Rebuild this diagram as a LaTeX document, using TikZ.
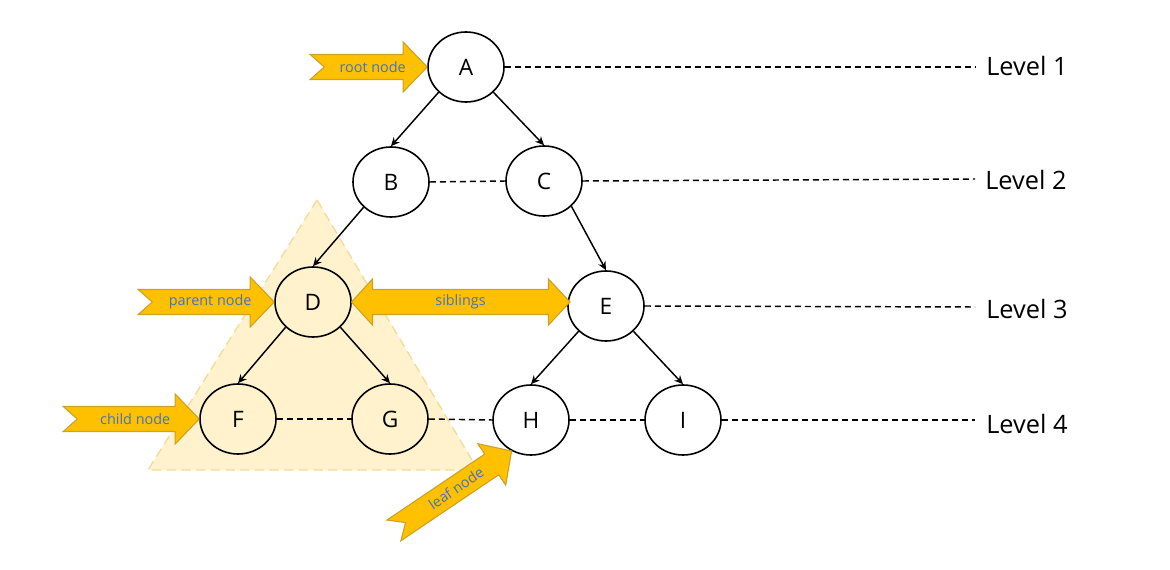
\documentclass[tikz,border=0pt]{standalone}
\usepackage{fontspec}
\setmainfont{Open Sans}
\usetikzlibrary{arrows.meta,shapes.geometric}
\definecolor{arrowfill}{HTML}{FFC000}
\definecolor{arrowline}{HTML}{C9A227}
\definecolor{labelblue}{HTML}{4472C4}
\definecolor{trifill}{HTML}{FFF2CC}
\definecolor{triline}{HTML}{F2DC9B}
\tikzset{
  treenode/.style={ellipse, draw=black, line width=1.2pt, minimum width=57pt, minimum height=52.5pt, inner sep=0pt, font=\fontsize{17}{20}\selectfont},
  treeedge/.style={line width=1.1pt, -{Stealth[length=6.5pt,width=6pt]}},
  levelline/.style={line width=1.1pt, dash pattern=on 4.5pt off 3pt},
  leveltext/.style={anchor=west, inner sep=0pt, font=\fontsize{19}{22}\selectfont},
  tagshape/.style={fill=arrowfill, draw=arrowline, line width=0.8pt, line join=miter},
  taglabel/.style={text=labelblue, inner sep=0pt, font=\fontsize{10.8}{12}\selectfont},
  triangleshape/.style={fill=trifill, draw=triline, line width=1pt, dash pattern=on 7pt off 4pt}
}
\newcommand\tagarrow[5]{% name, tip, angle, length, label
  \begin{scope}[shift={(#2)}, rotate=#3]
    \draw[tagshape] (0,0) -- (-24,-25) -- (-24,-12.5) -- (-#4,-12.5) -- (-#4+14,0) -- (-#4,12.5) -- (-24,12.5) -- (-24,25) -- cycle;
    \node[taglabel, transform shape] (#1) at (-#4/2+4,0) {#5};
  \end{scope}}
\begin{document}
\begin{tikzpicture}[x=0.75pt,y=-0.75pt]
\useasboundingbox (0,0) rectangle (1170,570);
% subtree triangle
\draw[triangleshape] (317,200) -- (148,470) -- (478,470) -- cycle;
% tree nodes
\node[treenode] (A) at (466,67) {A};
\node[treenode] (B) at (391,182) {B};
\node[treenode] (C) at (544,181) {C};
\node[treenode] (D) at (313,302) {D};
\node[treenode] (E) at (606,306) {E};
\node[treenode] (F) at (238,419) {F};
\node[treenode] (G) at (390,419) {G};
\node[treenode] (H) at (531,420) {H};
\node[treenode] (I) at (683,420) {I};
% edges
\draw[treeedge] (A.south west) -- (B.north);
\draw[treeedge] (A.south east) -- (C.north);
\draw[treeedge] (B.south west) -- (D.north);
\draw[treeedge] (C.south east) -- (E.north);
\draw[treeedge] (D.south west) -- (F.north);
\draw[treeedge] (D.south east) -- (G.north);
\draw[treeedge] (E.south west) -- (H.north);
\draw[treeedge] (E.south east) -- (I.north);
% level labels
\node[leveltext] (L1) at (986,66) {Level 1};
\node[leveltext] (L2) at (985,180) {Level 2};
\node[leveltext] (L3) at (986,309) {Level 3};
\node[leveltext] (L4) at (986,424) {Level 4};
\coordinate (E1) at (975,67);
\coordinate (E2) at (975,179);
\coordinate (E3) at (975,307);
\coordinate (E4) at (975,420);
% dashed level lines
\draw[levelline] (A.east) -- (E1);
\draw[levelline] (B.east) -- (C.west);
\draw[levelline] (C.east) -- (E2);
\draw[levelline] (E.east) -- (E3);
\draw[levelline] (F.east) -- (G.west);
\draw[levelline] (G.east) -- (H.west);
\draw[levelline] (H.east) -- (I.west);
\draw[levelline] (I.east) -- (E4);
% tag arrows
\tagarrow{rootlbl}{A.west}{0}{117}{root node}
\tagarrow{parentlbl}{D.west}{0}{136}{parent node}
\tagarrow{childlbl}{F.west}{0}{136}{child node}
\tagarrow{leaflbl}{H.-122}{34}{142}{leaf node}
% siblings double arrow
\coordinate (S1) at (351.5,302);
\coordinate (S2) at (570,302);
\begin{scope}[shift={(S1)}]
  \draw[tagshape] (0,0) -- (21,-23) -- (21,-12.5) -- (197,-12.5) -- (197,-23) -- (218.5,0) -- (197,23) -- (197,12.5) -- (21,12.5) -- (21,23) -- cycle;
  \node[taglabel] (siblbl) at (109,0) {siblings};
\end{scope}
\end{tikzpicture}
\end{document}
